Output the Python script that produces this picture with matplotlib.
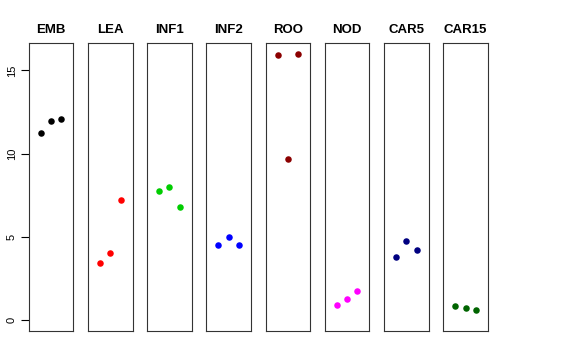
import numpy as np
import matplotlib
matplotlib.use('Agg')
import matplotlib.pyplot as plt

plt.rcParams['font.family'] = ['Liberation Sans', 'DejaVu Sans']

groups = ['EMB', 'LEA', 'INF1', 'INF2', 'ROO', 'NOD', 'CAR5', 'CAR15']
colors = ['#000000', '#FF0000', '#00CD00', '#0000FF', '#8B0000', '#FF00FF', '#000080', '#006400']
values = [
    [11.27, 11.94, 12.10],
    [3.43, 4.06, 7.23],
    [7.75, 8.01, 6.81],
    [4.54, 4.99, 4.54],
    [15.94, 9.69, 16.02],
    [0.90, 1.28, 1.76],
    [3.79, 4.75, 4.22],
    [0.88, 0.76, 0.62],
]
reps = [1, 2, 3]

fig, axes = plt.subplots(1, len(groups), figsize=(5.76, 3.6), dpi=100, sharey=True)
fig.subplots_adjust(left=0.0498, right=0.847, bottom=0.081, top=0.880, wspace=0.325)

for i, ax in enumerate(axes):
    ax.scatter(reps, values[i], color=colors[i], s=22, linewidths=0, zorder=3)
    ax.set_xlim(-0.16, 4.16)
    ax.set_ylim(-0.64, 16.64)
    ax.set_xticks([])
    ax.set_title(groups[i], fontsize=9.5, fontweight='bold', pad=7)
    for sp in ax.spines.values():
        sp.set_linewidth(0.8)
        sp.set_color('#333333')
    if i == 0:
        ax.set_yticks([0, 5, 10, 15])
        ax.tick_params(axis='y', length=5.5, width=0.8, labelsize=8, pad=3)
        for lab in ax.get_yticklabels():
            lab.set_rotation(90)
            lab.set_va('center')
    else:
        ax.tick_params(axis='y', left=False, labelleft=False)

fig.savefig('out.png', dpi=100)
